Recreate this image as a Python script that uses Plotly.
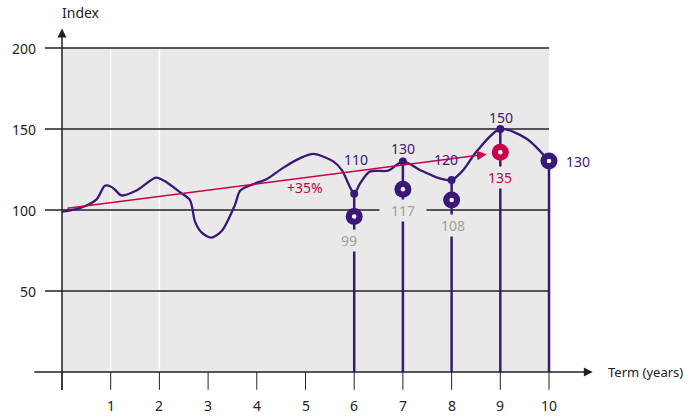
import plotly.graph_objects as go

# ---- data ----
curve_t = [0, 0.35, 0.71, 0.88, 1.0, 1.09, 1.22, 1.53, 1.93, 2.1, 2.42, 2.63, 2.73, 2.87, 3.07, 3.28,
           3.55, 3.66, 3.93, 4.2, 4.54, 4.89, 5.16, 5.57, 5.75, 5.9, 6.0, 6.12, 6.32, 6.7, 7.0, 7.35,
           7.69, 8.0, 8.24, 8.52, 9.0, 9.54, 10.0]
curve_v = [99, 101, 106.6, 115, 114.5, 112.5, 109, 112, 120, 118, 111, 106, 93, 86, 83, 87,
           103, 112, 116, 119, 126, 132, 134.6, 130, 124.5, 115, 110, 116.4, 123.7, 124.3, 130, 124.7,
           120.2, 118.5, 124.7, 136.4, 150, 144, 130.2]

dot_years = [6, 7, 8, 9]
dot_values = [110, 130, 118.5, 150]
dot_labels = ["110", "130", "120", "150"]

ring_years = [6, 7, 8, 9, 10]
ring_values = [96, 112.8, 106.2, 135.6, 130.2]
ring_labels = ["99", "117", "108", "135", "130"]
ring_colors = ["#3a1878", "#3a1878", "#3a1878", "#c8004a", "#3a1878"]

stem_years = [6, 7, 8, 9, 10]
stem_tops = [110, 130, 118.5, 150, 130.2]

x_ticks = [1, 2, 3, 4, 5, 6, 7, 8, 9, 10]
y_ticks = [50, 100, 150, 200]

trend_start = (0.08, 101)
trend_end = (8.72, 134.4)
trend_label = "+35%"

PURPLE = "#3a1878"
RED = "#c8004a"
GRAY_TXT = "#a0a0a0"
DARK = "#222222"
BG = "#e9e9e9"
FONT = "Noto Sans"

fig = go.Figure()

shapes = []
# plot background
shapes.append(dict(type="rect", xref="x", yref="y", x0=0, x1=10, y0=0, y1=200,
                   fillcolor=BG, line=dict(width=0), layer="below"))
# faint white verticals
for xv in [1, 2]:
    shapes.append(dict(type="line", xref="x", yref="y", x0=xv, x1=xv, y0=0, y1=200,
                       line=dict(color="white", width=1.5), layer="below"))
# horizontal grid
for yv in y_ticks:
    shapes.append(dict(type="line", xref="x", yref="y", x0=-0.35, x1=10, y0=yv, y1=yv,
                       line=dict(color=DARK, width=1.3), layer="below"))
# x ticks
for xv in [0] + x_ticks:
    shapes.append(dict(type="line", xref="x", yref="y", x0=xv, x1=xv, y0=0, y1=-11,
                       line=dict(color=DARK, width=1), layer="below"))
fig.update_layout(shapes=shapes)

# stems
for xv, top in zip(stem_years, stem_tops):
    fig.add_trace(go.Scatter(x=[xv, xv], y=[0, top], mode="lines",
                             line=dict(color=PURPLE, width=2.5), hoverinfo="skip", showlegend=False))

# curve
fig.add_trace(go.Scatter(x=curve_t, y=curve_v, mode="lines",
                         line=dict(color=PURPLE, width=2.3, shape="spline", smoothing=0.8),
                         hoverinfo="skip", showlegend=False))

# small dots
fig.add_trace(go.Scatter(x=dot_years, y=dot_values, mode="markers",
                         marker=dict(color=PURPLE, size=8), hoverinfo="skip", showlegend=False))

# rings
fig.add_trace(go.Scatter(x=ring_years, y=ring_values, mode="markers",
                         marker=dict(color=ring_colors, size=17), hoverinfo="skip", showlegend=False))
fig.add_trace(go.Scatter(x=ring_years, y=ring_values, mode="markers",
                         marker=dict(color="white", size=4.5), hoverinfo="skip", showlegend=False))

ann = []
# axes with arrows
ann.append(dict(x=10.9, y=0, ax=-0.6, ay=0, xref="x", yref="y", axref="x", ayref="y",
                text="", showarrow=True, arrowhead=2, arrowsize=1.2, arrowwidth=1.5, arrowcolor=DARK))
ann.append(dict(x=0, y=212, ax=0, ay=-12, xref="x", yref="y", axref="x", ayref="y",
                text="", showarrow=True, arrowhead=2, arrowsize=1.2, arrowwidth=1.5, arrowcolor=DARK))
# trend arrow
ann.append(dict(x=trend_end[0], y=trend_end[1], ax=trend_start[0], ay=trend_start[1],
                xref="x", yref="y", axref="x", ayref="y", text="", showarrow=True,
                arrowhead=2, arrowsize=1.3, arrowwidth=1.5, arrowcolor=RED))
ann.append(dict(x=4.99, y=114, xref="x", yref="y", text=trend_label, showarrow=False,
                font=dict(family=FONT, size=14, color=RED)))

# axis titles
ann.append(dict(x=-0.05, y=222, xref="x", yref="y", text="Index", showarrow=False,
                xanchor="left", font=dict(family=FONT, size=14, color=DARK)))
ann.append(dict(x=11.17, y=0, xref="x", yref="y", text="Term (years)", showarrow=False,
                xanchor="left", font=dict(family=FONT, size=13, color=DARK)))

# tick labels
for xv in x_ticks:
    ann.append(dict(x=xv, y=-20.5, xref="x", yref="y", text=str(xv), showarrow=False,
                    font=dict(family=FONT, size=14, color=DARK)))
for yv in y_ticks:
    ann.append(dict(x=-0.5, y=yv, xref="x", yref="y", text=str(yv), showarrow=False,
                    xanchor="right", font=dict(family=FONT, size=14, color=DARK)))

# dot labels
dot_label_pos = [(6.03, 131.3), (7.0, 137.7), (7.88, 131.3), (9.01, 157.4)]
for (px, py), lab in zip(dot_label_pos, dot_labels):
    ann.append(dict(x=px, y=py, xref="x", yref="y", text=lab, showarrow=False,
                    font=dict(family=FONT, size=14, color=PURPLE)))

# ring labels
ring_label_pos = [(5.9, 80.9), (7.0, 99.4), (8.02, 90.7), (8.99, 120.0), (10.6, 130.2)]
ring_label_colors = [GRAY_TXT, GRAY_TXT, GRAY_TXT, RED, PURPLE]
ring_label_bg = [BG, BG, BG, BG, "rgba(0,0,0,0)"]
ring_label_pad = [1, 1, 1, 1, 1]
ring_label_w = [None, 44, None, None, None]
for (px, py), lab, c, b, pad, w in zip(ring_label_pos, ring_labels, ring_label_colors,
                                         ring_label_bg, ring_label_pad, ring_label_w):
    a = dict(x=px, y=py, xref="x", yref="y", text=lab, showarrow=False,
             bgcolor=b, borderpad=pad,
             font=dict(family=FONT, size=14, color=c))
    if w is not None:
        a["width"] = w
    ann.append(a)

fig.update_layout(
    annotations=ann,
    width=688, height=416,
    margin=dict(l=0, r=0, t=0, b=0),
    paper_bgcolor="white", plot_bgcolor="white",
    xaxis=dict(range=[-1.273, 12.854], visible=False, fixedrange=True),
    yaxis=dict(range=[-27.16, 229.63], visible=False, fixedrange=True),
    showlegend=False,
)

fig.write_html("out.html", config={"displayModeBar": False},
               post_script="document.body.style.margin='0px';document.body.style.overflow='hidden';")
